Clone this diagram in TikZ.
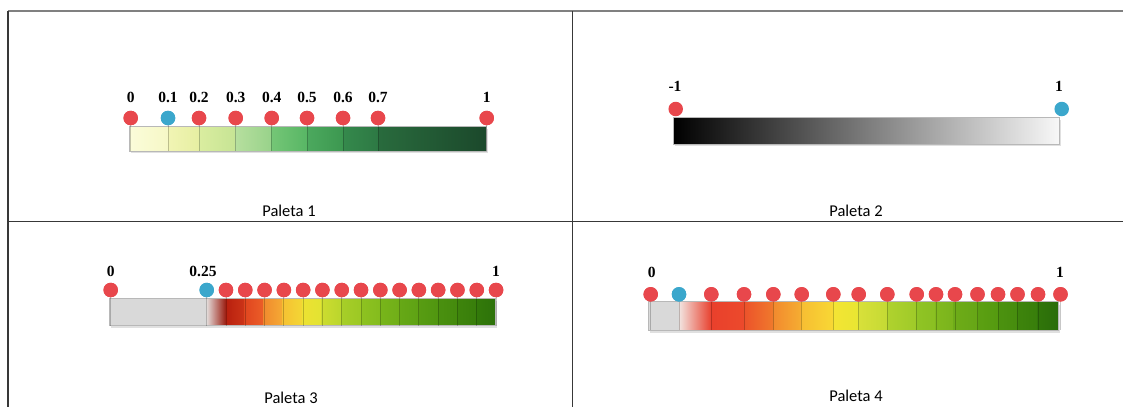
\documentclass[tikz,border=0pt]{standalone}
\usepackage{fontspec}
\setmainfont{Liberation Serif}
\newfontfamily\calfont{Carlito}
\begin{document}
\begin{tikzpicture}[x=1pt,y=-1pt,
  reddot/.style={circle,fill=dotred,draw=none,minimum size=14.5pt,inner sep=0pt},
  bluedot/.style={circle,fill=dotblue,draw=none,minimum size=14.5pt,inner sep=0pt},
  vlabel/.style={font=\fontsize{15.5}{16}\selectfont\bfseries,inner sep=0pt},
  caption/.style={font=\calfont\fontsize{16.5}{18}\selectfont,inner sep=0pt},
  gridline/.style={draw=black!78,line width=1.1pt},
  stem/.style={draw=black,draw opacity=0.22,line width=0.8pt},
  barframe/.style={draw=black!28,line width=0.6pt}]
\definecolor{dotred}{HTML}{E8474C}
\definecolor{dotblue}{HTML}{3BA7CC}
\definecolor{bargray}{HTML}{D9D9D9}
\clip (0,0) rectangle (1123,407);
\fill[white] (0,0) rectangle (1123,407);
% table grid
\draw[draw=black!50,line width=1.4pt] (8,11) -- (1123,11);
\draw[gridline] (8,11) -- (8,407);
\draw[gridline] (572.3,11) -- (572.3,407);
\draw[gridline] (8,221.3) -- (1123,221.3);

% ---------------- Palette 1 ----------------
\fill[black!12] (131,129) rectangle (488,153);
\foreach \a/\b/\ca/\cb in {129/168/FBFCDA/F6F8C6, 168/199/F1F4B4/E6EFA2, 199/235.7/DAEDA0/C6E494, 235.7/271.7/B6DF9E/98D28A, 271.7/307/74C676/58B665, 307/343/4CA95E/3C9750, 343/378/35894C/2D7944, 378/486.7/296B3D/1B482B}{
  \definecolor{tmpa}{HTML}{\ca}\definecolor{tmpb}{HTML}{\cb}
  \shade[left color=tmpa,right color=tmpb] (\a,126) rectangle (\b,151);
}
\draw[barframe] (129,126) rectangle (486.7,151);
\coordinate (b1bot) at (0,151);
\foreach \x/\t/\s [count=\i] in {130.7/0/reddot, 168/0.1/bluedot, 199/0.2/reddot, 235.7/0.3/reddot, 271.7/0.4/reddot, 307/0.5/reddot, 343/0.6/reddot, 378/0.7/reddot, 486.7/1/reddot}{
  \node[\s] (pa\i) at (\x,118) {};
  \draw[stem] (pa\i.south) -- (pa\i.south |- b1bot);
  \node[\s] at (pa\i) {};
  \node[vlabel] (la\i) at (\x,97.5) {\t};
}
\node[caption] (cap1) at (289,211) {Paleta 1};

% ---------------- Palette 2 ----------------
\fill[black!12] (675,120) rectangle (1061,146);
\shade[left color=black,right color=black!3] (673,117) rectangle (1059,144);
\draw[barframe] (673,117) rectangle (1059,144);
\node[reddot] (pb1) at (675.7,109) {};
\node[bluedot] (pb2) at (1061.7,109) {};
\node[vlabel] (lb1) at (675,86) {-1};
\node[vlabel] (lb2) at (1059,86) {1};
\node[caption] (cap2) at (856,211) {Paleta 2};

% ---------------- Palette 3 ----------------
\fill[black!12] (111,301) rectangle (497,328);
\fill[bargray] (109.3,298.3) rectangle (206.7,325.7);
\foreach \a/\b/\ca/\cb in {206.7/226/E2DAD8/9A1A0E, 226/244.3/B8200F/CC3418, 244.3/263.3/E0451F/EB5E28, 263.3/282.7/F08A2E/F5AA34, 282.7/302.3/F6C233/F3D634, 302.3/321.7/EDE232/E2E332, 321.7/341.7/CCDC30/BAD62C, 341.7/361/A7CE28/9CC824, 361/380/8EC220/84BC1E, 380/400/78B51A/70AE18, 400/419.3/66A816/5EA214, 419.3/438.3/589C12/509610, 438.3/457.7/4A900F/448A0D, 457.7/476.7/3E840C/387E0B, 476.7/495/337A0A/2D720A}{
  \definecolor{tmpa}{HTML}{\ca}\definecolor{tmpb}{HTML}{\cb}
  \shade[left color=tmpa,right color=tmpb] (\a,298.3) rectangle (\b,325.7);
}
\draw[barframe] (109.3,298.3) rectangle (495,325.7);
\coordinate (b3bot) at (0,325.7);
\node[reddot] (pc0) at (110.7,290) {};
\draw[stem] (pc0.south) -- (pc0.south |- b3bot);
\node[reddot] at (pc0) {};
\node[bluedot] (pc1) at (206.7,290) {};
\draw[stem] (pc1.south) -- (pc1.south |- b3bot);
\node[bluedot] at (pc1) {};
\foreach \k in {1,...,15}{
  \node[reddot] (pcr\k) at ({206.7+\k*19.29},290) {};
  \draw[stem] (pcr\k.south) -- (pcr\k.south |- b3bot);
  \node[reddot] at (pcr\k) {};
}
\node[vlabel] (lc1) at (110.7,271) {0};
\node[vlabel] (lc2) at (203,271) {0.25};
\node[vlabel] (lc3) at (496,271) {1};
\node[caption] (cap3) at (291,398) {Paleta 3};

% ---------------- Palette 4 ----------------
\fill[black!12] (650,305) rectangle (1060,333);
\fill[bargray] (648.3,301.7) rectangle (679,330);
\foreach \a/\b/\ca/\cb in {679/711.3/F2E4E0/E8402E, 711.3/744/E9402C/EC4A2C, 744/773.3/EC522B/F07A2C, 773.3/801.7/F28A2E/F5AE32, 801.7/833.3/F7BE33/F8D834, 833.3/858.7/F4E434/E8E632, 858.7/887.3/D8E03A/C4DA34, 887.3/916.7/B0D22E/9ECA28, 916.7/935/90C424/8ABF22, 935/953.3/82BA1E/7AB41C, 953.3/978.3/6EAC18/66A616, 978.3/998.3/5CA012/549A10, 998.3/1017.3/4C920F/468C0E, 1017.3/1037.3/3E840C/387E0B, 1037.3/1058.3/31760A/2A6C0A}{
  \definecolor{tmpa}{HTML}{\ca}\definecolor{tmpb}{HTML}{\cb}
  \shade[left color=tmpa,right color=tmpb] (\a,301.7) rectangle (\b,330);
}
\draw[barframe] (648.3,301.7) rectangle (1058.3,330);
\coordinate (b4bot) at (0,330);
\foreach \x/\s [count=\i] in {650.7/reddot, 679/bluedot, 711.3/reddot, 744/reddot, 773.3/reddot, 801.7/reddot, 833.3/reddot, 858.7/reddot, 887.3/reddot, 916.7/reddot, 936/reddot, 955/reddot, 977.5/reddot, 998/reddot, 1017.5/reddot, 1038/reddot, 1060.5/reddot}{
  \node[\s] (pd\i) at (\x,294.3) {};
  \draw[stem] (pd\i.south) -- (pd\i.south |- b4bot);
  \node[\s] at (pd\i) {};
}
\node[vlabel] (ld1) at (651.7,272) {0};
\node[vlabel] (ld2) at (1060,272) {1};
\node[caption] (cap4) at (856,396) {Paleta 4};
\end{tikzpicture}
\end{document}
